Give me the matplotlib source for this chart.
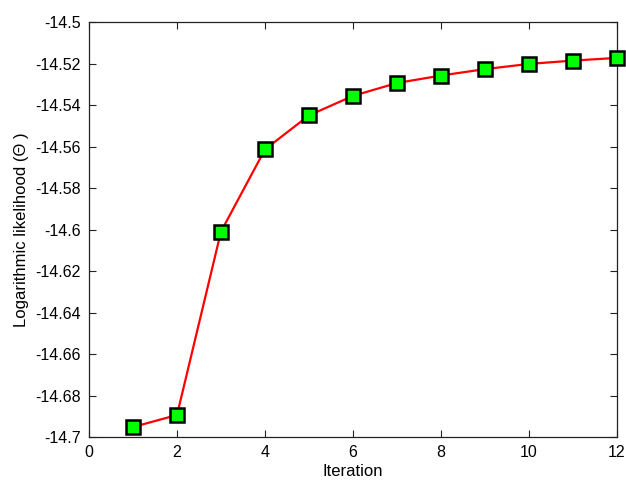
import numpy as np
import matplotlib.pyplot as plt

plt.rcParams['font.family'] = ['Liberation Sans', 'DejaVu Sans']

# Значення логарифмічної правдоподібності по ітераціях
iterations = [1, 2, 3, 4, 5, 6, 7, 8, 9, 10, 11, 12]
log_likelihood = [-14.6952, -14.6894, -14.6010, -14.5614, -14.5450, -14.5356,
                  -14.5294, -14.5258, -14.5227, -14.5202, -14.5186, -14.5173]

fig = plt.figure(figsize=(6.26, 4.84), dpi=100)
ax = fig.add_axes([89 / 626, 1 - 437 / 484, (617 - 89) / 626, (437 - 22) / 484])

ax.plot(iterations, log_likelihood, color='red', linewidth=1.6,
        marker='s', markersize=10, markerfacecolor='#00ff00',
        markeredgecolor='black', markeredgewidth=1.8, clip_on=False, zorder=3)

ax.set_xlim(0, 12)
ax.set_ylim(-14.7, -14.5)
ax.set_xticks(np.arange(0, 13, 2))
ax.set_yticks(np.arange(-14.7, -14.499, 0.02))
ax.set_yticklabels(['-14.7', '-14.68', '-14.66', '-14.64', '-14.62', '-14.6',
                    '-14.58', '-14.56', '-14.54', '-14.52', '-14.5'])
ax.tick_params(direction='in', length=5, width=0.8, labelsize=11.5,
               top=True, right=True, pad=6, colors='#222222', labelcolor='black')
for spine in ax.spines.values():
    spine.set_linewidth(0.9)
    spine.set_color('#222222')

ax.set_xlabel('Iteration', fontsize=12, labelpad=3)
ax.set_ylabel('Logarithmic likelihood (Θ )', fontsize=12, labelpad=4)

fig.savefig('out.png', dpi=100)
